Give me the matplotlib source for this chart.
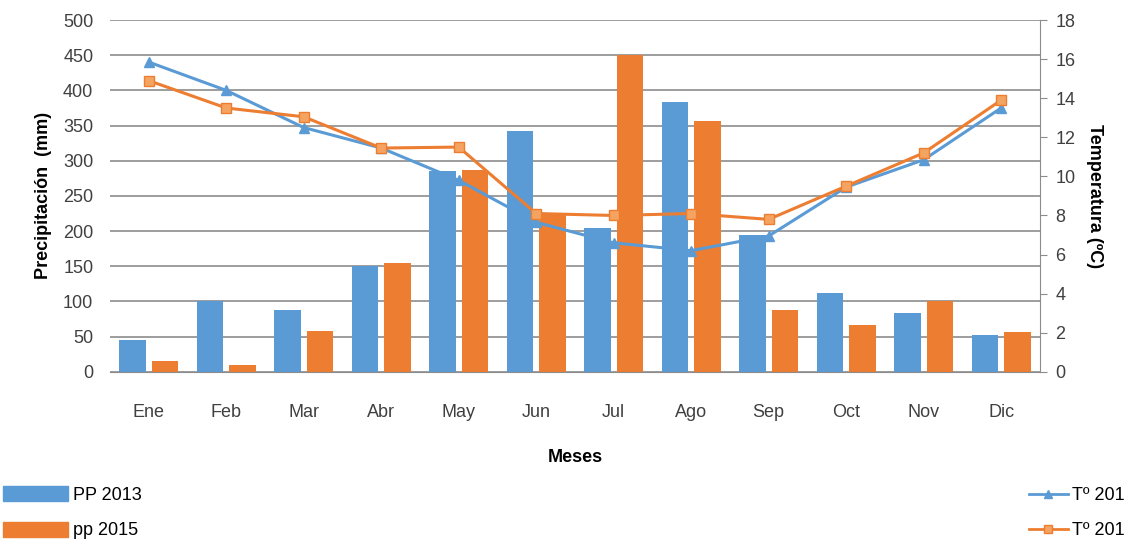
import numpy as np
import matplotlib.pyplot as plt
from matplotlib.lines import Line2D
import matplotlib.patches as mpatches

plt.rcParams['font.family'] = ['Liberation Sans Narrow', 'Liberation Sans', 'DejaVu Sans']

meses = ['Ene', 'Feb', 'Mar', 'Abr', 'May', 'Jun', 'Jul', 'Ago', 'Sep', 'Oct', 'Nov', 'Dic']
pp_2013 = [45, 100, 88, 150, 285, 342, 205, 383, 195, 112, 83, 53]
pp_2015 = [15, 10, 58, 155, 287, 225, 450, 357, 88, 67, 100, 57]
t_2013 = [15.85, 14.4, 12.5, 11.45, 9.8, 7.65, 6.6, 6.2, 6.95, 9.45, 10.85, 13.5]
t_2015 = [14.9, 13.5, 13.05, 11.45, 11.5, 8.1, 8.0, 8.1, 7.8, 9.5, 11.2, 13.9]
# legend texts as far as the source image shows them (cut at its right edge)
t_labels = ['Tº 201', 'Tº 201']

blue = '#5B9BD5'
orange = '#ED7D31'
grid_c = '#8c8c8c'

fig = plt.figure(figsize=(11.34, 5.42), dpi=100)
ax = fig.add_axes([0.097, 0.314, 0.82, 0.649])
x = np.arange(len(meses))
w = 0.34
ax.bar(x - 0.21, pp_2013, w, color=blue, zorder=2)
ax.bar(x + 0.21, pp_2015, w, color=orange, zorder=2)
ax.set_xlim(-0.5, 11.5)
ax.set_ylim(0, 500)
ax.set_yticks(range(0, 501, 50))
ax.yaxis.grid(True, color=grid_c, linewidth=1.2, zorder=0)
ax.set_axisbelow(True)
ax.set_xticks(x)
ax.set_xticklabels(meses)
for s in ['top', 'left', 'right']:
    ax.spines[s].set_visible(False)
ax.spines['bottom'].set_color(grid_c)
ax.tick_params(axis='y', length=0, labelsize=13, colors='#404040', pad=12)
ax.tick_params(axis='x', length=0, labelsize=13, colors='#404040', pad=23)
ax.set_ylabel('Precipitación  (mm)', fontsize=13, fontweight='bold', labelpad=8)
ax.set_xlabel('Meses', fontsize=13, fontweight='bold', labelpad=20)

ax2 = ax.twinx()
ax2.plot(x, t_2013, color=blue, linewidth=2.2, marker='^', markersize=7, zorder=3)
ax2.plot(x, t_2015, color=orange, linewidth=2.2, marker='s', markersize=7,
         markerfacecolor='#F4A460', markeredgecolor=orange, zorder=4)
ax2.set_ylim(0, 18)
ax2.set_yticks(range(0, 19, 2))
for s in ['top', 'left', 'bottom']:
    ax2.spines[s].set_visible(False)
ax2.spines['right'].set_color(grid_c)
ax2.tick_params(axis='y', length=5, direction='out', color=grid_c, labelsize=13,
                colors='#404040', pad=6)
ax2.tick_params(axis='y', colors=grid_c, labelcolor='#404040')
ax2.set_ylabel('Temperatura (ºC)', fontsize=13, fontweight='bold', rotation=270, labelpad=20)

h1 = [mpatches.Patch(color=blue), mpatches.Patch(color=orange)]
leg1 = fig.legend(h1, ['PP 2013', 'pp 2015'], loc='lower left', bbox_to_anchor=(-0.012, -0.025),
                  frameon=False, fontsize=13, handlelength=3.6, handleheight=0.9,
                  labelspacing=1.0, handletextpad=0.3)
h2 = [Line2D([], [], color=blue, marker='^', linewidth=2),
      Line2D([], [], color=orange, marker='s', markerfacecolor='#F4A460', linewidth=2)]
leg2 = fig.legend(h2, t_labels, loc='lower right', bbox_to_anchor=(1.006, -0.025),
                  frameon=False, fontsize=13, handlelength=2.2, labelspacing=1.0,
                  handletextpad=0.2)

fig.savefig('out.png', dpi=100)
